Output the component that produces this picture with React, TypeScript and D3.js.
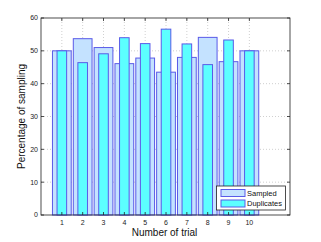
import * as d3 from "d3";
import React from "react";

// values
const trials = [1, 2, 3, 4, 5, 6, 7, 8, 9, 10];
const sampled = [50.0, 53.7, 51.0, 46.1, 47.8, 43.5, 48.0, 54.1, 46.7, 50.0];
const duplicates = [50.0, 46.4, 49.1, 54.0, 52.2, 56.6, 52.1, 45.8, 53.3, 50.0];
const yTicks = [0, 10, 20, 30, 40, 50, 60];

const W = 321;
const H = 242;
const margin = { left: 41, right: 31, top: 18, bottom: 27 };

const sampledFill = "#c4e2ff";
const dupFill = "#5cffff";
const barStroke = "#5a5ae8";

const App = () => {
  const x = d3.scaleLinear().domain([0, 11.95]).range([margin.left, W - margin.right]);
  const y = d3.scaleLinear().domain([0, 60]).range([H - margin.bottom, margin.top]);
  const unit = x(1) - x(0);
  const wideW = unit * 0.9;
  const narrowW = unit * 0.46;
  const font = "Liberation Sans, Arial, sans-serif";
  const x0 = margin.left;
  const x1 = W - margin.right;
  const y0 = H - margin.bottom;
  const y1 = margin.top;

  return (
    <svg width={W} height={H} style={{ position: "absolute", left: 0, top: 0, background: "#fff" }}>
      {/* grid */}
      {trials.map((t) => (
        <line key={"gx" + t} x1={x(t)} x2={x(t)} y1={y0} y2={y1} stroke="#b0b0b0" strokeWidth={0.6} strokeDasharray="1,2" />
      ))}
      {yTicks.slice(1, -1).map((v) => (
        <line key={"gy" + v} x1={x0} x2={x1} y1={y(v)} y2={y(v)} stroke="#b0b0b0" strokeWidth={0.6} strokeDasharray="1,2" />
      ))}
      {/* sampled bars */}
      {sampled.map((v, i) => (
        <rect key={"s" + i} x={x(trials[i]) - wideW / 2} y={y(v)} width={wideW} height={y(0) - y(v)}
          fill={sampledFill} stroke={barStroke} strokeWidth={1} />
      ))}
      {/* duplicates bars */}
      {duplicates.map((v, i) => (
        <rect key={"d" + i} x={x(trials[i]) - narrowW / 2} y={y(v)} width={narrowW} height={y(0) - y(v)}
          fill={dupFill} stroke={barStroke} strokeWidth={1} />
      ))}
      {/* axes box */}
      <rect x={x0} y={y1} width={x1 - x0} height={y0 - y1} fill="none" stroke="#222" strokeWidth={0.8} />
      {yTicks.map((v) => (
        <g key={"ty" + v}>
          <line x1={x0} x2={x0 + 3} y1={y(v)} y2={y(v)} stroke="#222" strokeWidth={0.8} />
          <line x1={x1} x2={x1 - 3} y1={y(v)} y2={y(v)} stroke="#222" strokeWidth={0.8} />
          <text x={x0 - 3} y={y(v)} dy="0.35em" textAnchor="end" fontSize={7} fontFamily={font} fill="#222">{v}</text>
        </g>
      ))}
      {trials.map((t) => (
        <g key={"tx" + t}>
          <line x1={x(t)} x2={x(t)} y1={y0} y2={y0 - 3} stroke="#222" strokeWidth={0.8} />
          <line x1={x(t)} x2={x(t)} y1={y1} y2={y1 + 3} stroke="#222" strokeWidth={0.8} />
          <text x={x(t)} y={y0 + 10} textAnchor="middle" fontSize={7} fontFamily={font} fill="#222">{t}</text>
        </g>
      ))}
      <text x={(x0 + x1) / 2 - 1} y={H - 6} textAnchor="middle" fontSize={10} fontFamily={font} fill="#111">Number of trial</text>
      <text transform={`translate(25, ${(y0 + y1) / 2}) rotate(-90)`} textAnchor="middle" fontSize={10} fontFamily={font} fill="#111">Percentage of sampling</text>
      {/* legend */}
      <g>
        <rect x={216.5} y={186} width={69} height={24} fill="#fff" stroke="#222" strokeWidth={0.8} />
        <rect x={221} y={189.5} width={24} height={7} fill={sampledFill} stroke={barStroke} strokeWidth={1} />
        <rect x={221} y={200} width={24} height={7} fill={dupFill} stroke={barStroke} strokeWidth={1} />
        <text x={247} y={193} dy="0.35em" fontSize={7.5} fontFamily={font} fill="#111">Sampled</text>
        <text x={247} y={203.5} dy="0.35em" fontSize={7.5} fontFamily={font} fill="#111">Duplicates</text>
      </g>
    </svg>
  );
};

export default App;
